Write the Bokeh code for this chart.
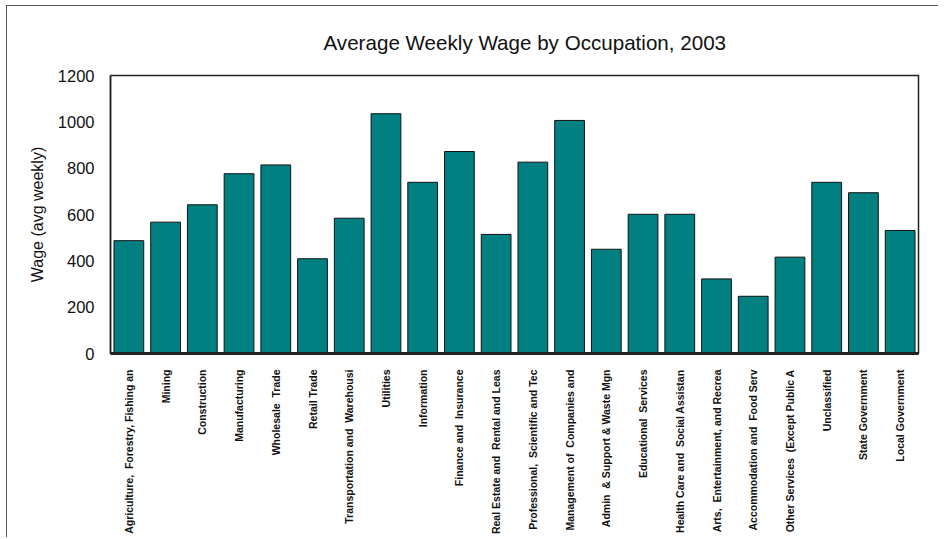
from bokeh.plotting import figure
from bokeh.models import ColumnDataSource, Title, FixedTicker
from bokeh.embed import file_html
from bokeh.resources import INLINE
import math

categories = [
    "Agriculture,\u00a0 Forestry, Fishing an",
    "Mining",
    "Construction",
    "Manufacturing",
    "Wholesale\u00a0 Trade",
    "Retail Trade",
    "Transportation and\u00a0 Warehousi",
    "Utilities",
    "Information",
    "Finance and\u00a0 Insurance",
    "Real Estate and\u00a0 Rental and Leas",
    "Professional,\u00a0 Scientific and Tec",
    "Management of\u00a0 Companies and",
    "Admin\u00a0 & Support & Waste Mgn",
    "Educational\u00a0 Services",
    "Health Care and\u00a0 Social Assistan",
    "Arts,\u00a0 Entertainment, and Recrea",
    "Accommodation and\u00a0 Food Serv",
    "Other Services\u00a0 (Except Public A",
    "Unclassified",
    "State Government",
    "Local Government",
]
wages = [487, 567, 642, 776, 814, 409, 584, 1035, 739, 872, 514,
         826, 1006, 450, 601, 601, 322, 247, 416, 739, 694, 531]
y_ticks = [0, 200, 400, 600, 800, 1000, 1200]
title_text = "Average Weekly Wage by Occupation, 2003"

source = ColumnDataSource(data=dict(cat=categories, wage=wages))

p = figure(x_range=categories, y_range=(0, 1200),
           output_backend="svg", toolbar_location=None,
           min_border_left=103, min_border_right=20,
           min_border_top=69, min_border_bottom=0)
p.frame_width = 808
p.frame_height = 278

p.vbar(x="cat", top="wage", width=0.81, source=source,
       fill_color="#008080", line_color="#111111", line_width=1)

title = Title(text=title_text, align="left", offset=213,
              text_font="Liberation Sans", text_font_size="20.6px",
              text_font_style="normal", text_color="#111111", standoff=44)
p.add_layout(title, "above")

p.xgrid.visible = False
p.ygrid.visible = False
p.outline_line_color = "#222222"
p.outline_line_width = 1.5

p.yaxis.ticker = FixedTicker(ticks=y_ticks)
p.yaxis.axis_label = "Wage (avg weekly)"
p.yaxis.axis_label_text_font = "Liberation Sans"
p.yaxis.axis_label_text_font_size = "16px"
p.yaxis.axis_label_text_font_style = "normal"
p.yaxis.axis_label_text_color = "#111111"
p.yaxis.axis_label_standoff = 9
p.yaxis.major_label_text_font = "Liberation Sans"
p.yaxis.major_label_text_font_size = "16.5px"
p.yaxis.major_label_text_color = "#111111"
p.yaxis.major_label_standoff = 10
p.yaxis.major_tick_line_color = None
p.yaxis.minor_tick_line_color = None
p.yaxis.axis_line_color = "#222222"
p.yaxis.axis_line_width = 1.5

p.xaxis.major_label_orientation = math.pi / 2
p.xaxis.major_label_text_font = "Liberation Sans"
p.xaxis.major_label_text_font_size = "10.5px"
p.xaxis.major_label_text_font_style = "bold"
p.xaxis.major_label_text_color = "#111111"
p.xaxis.major_label_standoff = 10
p.xaxis.major_tick_line_color = None
p.xaxis.minor_tick_line_color = None
p.xaxis.axis_line_color = "#222222"
p.xaxis.axis_line_width = 3

p.styles = {"margin-left": "6px", "margin-top": "5px",
            "border-left": "1px solid #555555", "border-top": "1px solid #555555"}

open("out.html", "w").write(file_html(p, INLINE))
